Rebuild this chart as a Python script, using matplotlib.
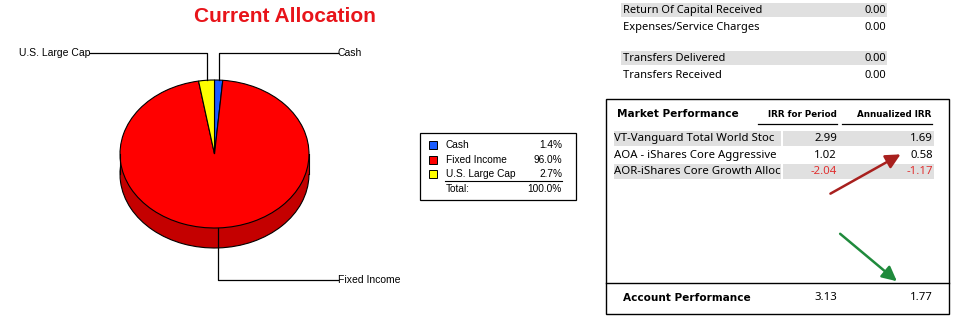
import matplotlib.pyplot as plt
from matplotlib.patches import Rectangle
import numpy as np

# dados da pizza
classes = ['Cash', 'Fixed Income', 'U.S. Large Cap']
percentuais = [1.4, 96.0, 2.7]
cores = ['#1a5cff', '#ff0000', '#ffff00']
cores_lado = ['#0a3ca8', '#c40000', '#b8b800']
total_txt = '100.0%'

# resumo (topo direito)
itens_resumo = ['Return Of Capital Received', 'Expenses/Service Charges', '',
                'Transfers Delivered', 'Transfers Received']
valores_resumo = [0.00, 0.00, None, 0.00, 0.00]

# desempenho de mercado
fundos = ['VT-Vanguard Total World Stoc', 'AOA - iShares Core Aggressive',
          'AOR-iShares Core Growth Alloc']
irr_periodo = [2.99, 1.02, -2.04]
irr_anual = [1.69, 0.58, -1.17]
conta_irr = [3.13, 1.77]

W, H = 954, 322
fig = plt.figure(figsize=(W / 100, H / 100), dpi=100)
ax = fig.add_axes([0, 0, 1, 1])
ax.set_xlim(0, W)
ax.set_ylim(H, 0)
ax.axis('off')

fonte = 'Noto Sans'
fonte_neg = 'DejaVu Sans'   # negrito
fonte_pizza = 'Liberation Sans'

# titulo
ax.text(285, 16, 'Current Allocation', color='#e8141a', fontsize=15,
        fontweight='bold', family=fonte_pizza, ha='center', va='center')

# 1. Pizza "3D" (elipse + lateral)
cx, cy, rx, ry = 214.5, 154, 94.5, 74
L, R, T, B = 20, 409, 30, 300
pa = fig.add_axes([L / W, (H - B) / H, (R - L) / W, (B - T) / H])
prof = 20 / ry
borda = dict(edgecolor='black', linewidth=0.8)
pa.pie(percentuais, colors=cores_lado, startangle=90, counterclock=False,
       center=(0, -prof), wedgeprops=borda)
pa.add_patch(Rectangle((-1, -prof), 2, prof, facecolor=cores_lado[1], edgecolor='none'))
pa.plot([-1, -1], [-prof, 0], color='black', lw=0.8)
pa.plot([1, 1], [-prof, 0], color='black', lw=0.8)
fatias, _ = pa.pie(percentuais, colors=cores, startangle=90, counterclock=False,
                   wedgeprops=borda)
pa.set_aspect('auto')
pa.set_xlim((L - cx) / rx, (R - cx) / rx)
pa.set_ylim((cy - B) / ry, (cy - T) / ry)
pa.axis('off')

# linhas de chamada
y_cima = (cy - 53) / ry
y_baixo = (cy - 280) / ry
x_dir = (338 - cx) / rx
x_esq = (90 - cx) / rx
for w, nome in zip(fatias, classes):
    th = np.deg2rad((w.theta1 + w.theta2) / 2)
    x0, y0 = np.cos(th), np.sin(th)
    y1 = y_cima if y0 > 0 else y_baixo
    x1 = x_dir if x0 > 0 else x_esq
    pa.plot([x0, x0, x1], [y0, y1, y1], color='black', lw=0.9, clip_on=False)
    pa.text(x1, y1, nome, fontsize=7.5, family=fonte_pizza, va='center',
            ha='left' if x0 > 0 else 'right', clip_on=False)

# 2. Legenda
ax.add_patch(Rectangle((420, 133), 156, 67, fill=False, edgecolor='black', lw=0.9))
for i, (nome, p, c) in enumerate(zip(classes, percentuais, cores)):
    y = 145 + i * 14.5
    ax.add_patch(Rectangle((429, y - 4), 8, 8, facecolor=c, edgecolor='black', lw=0.7))
    ax.text(446, y, nome, fontsize=7.3, family=fonte_pizza, va='center')
    ax.text(562, y, f'{p:.1f}%', fontsize=7.3, family=fonte_pizza, va='center', ha='right')
ax.plot([445, 562], [181, 181], color='black', lw=0.8)
ax.text(446, 189, 'Total:', fontsize=7.3, family=fonte_pizza, va='center')
ax.text(562, 189, total_txt, fontsize=7.3, family=fonte_pizza, va='center', ha='right')

# 3. Resumo (topo)
ys_resumo = [10, 27, 42, 58, 75]
for i, (nome, v) in enumerate(zip(itens_resumo, valores_resumo)):
    if v is None:
        continue
    y = ys_resumo[i]
    if i in (0, 3):
        ax.add_patch(Rectangle((621, y - 7), 266, 14, facecolor='#e0e0e0', edgecolor='none'))
    ax.text(623, y, nome, fontsize=8, family=fonte, va='center')
    ax.text(886, y, f'{v:.2f}', fontsize=8, family=fonte, va='center', ha='right')

# 4. Quadro de desempenho
ax.add_patch(Rectangle((606, 99), 343, 215, fill=False, edgecolor='black', lw=1.0))
ax.plot([606, 949], [283, 283], color='black', lw=1.0)
ax.text(617, 114, 'Market Performance', fontsize=7.6, family=fonte_neg,
        fontweight='bold', va='center')
ax.text(837, 114, 'IRR for Period', fontsize=6.3, family=fonte_neg, fontweight='bold',
        va='center', ha='right')
ax.plot([758, 837], [124, 124], color='black', lw=0.9)
ax.text(931, 114, 'Annualized IRR', fontsize=6.3, family=fonte_neg, fontweight='bold',
        va='center', ha='right')
ax.plot([842, 932], [124, 124], color='black', lw=0.9)

for i, (f, a, b) in enumerate(zip(fundos, irr_periodo, irr_anual)):
    y = 138.5 + i * 16.5
    if i % 2 == 0:
        ax.add_patch(Rectangle((614, y - 7.5), 167, 15, facecolor='#e0e0e0', edgecolor='none'))
        ax.add_patch(Rectangle((783, y - 7.5), 151, 15, facecolor='#e0e0e0', edgecolor='none'))
    cor = '#e03030' if a < 0 else 'black'
    ax.text(614, y, f, fontsize=8.2, family=fonte, va='center')
    ax.text(837, y, f'{a:.2f}', fontsize=8.2, family=fonte, va='center', ha='right', color=cor)
    cor = '#e03030' if b < 0 else 'black'
    ax.text(933, y, f'{b:.2f}', fontsize=8.2, family=fonte, va='center', ha='right', color=cor)

# setas
ax.annotate('', xy=(903, 153), xytext=(828, 195),
            arrowprops=dict(arrowstyle='-|>', color='#a8201e', lw=1.8, mutation_scale=22))
ax.annotate('', xy=(899, 283), xytext=(838, 232),
            arrowprops=dict(arrowstyle='-|>', color='#1f8a3c', lw=1.8, mutation_scale=22))

ax.text(623, 298, 'Account Performance', fontsize=7.6, family=fonte_neg,
        fontweight='bold', va='center')
ax.text(837, 298, f'{conta_irr[0]:.2f}', fontsize=8.2, family=fonte, va='center', ha='right')
ax.text(933, 298, f'{conta_irr[1]:.2f}', fontsize=8.2, family=fonte, va='center', ha='right')

fig.savefig('out.png', dpi=100)
